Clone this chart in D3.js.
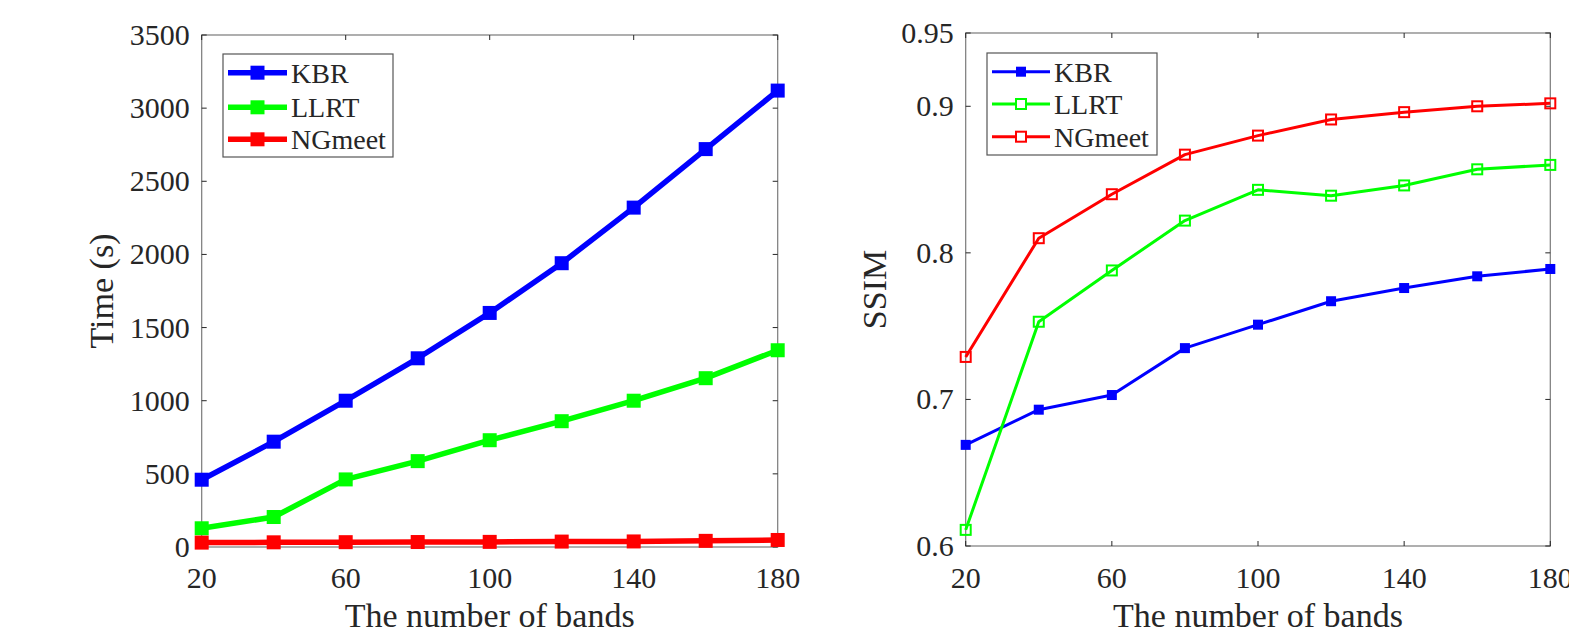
<!DOCTYPE html>
<html>
<head>
<meta charset="utf-8">
<script src="https://cdn.jsdelivr.net/npm/d3@7"></script>
<style>
  body { margin: 0; background: #fff; }
  text { font-family: "Liberation Serif", "Times New Roman", serif; fill: #262626; }
</style>
</head>
<body>
<div class="chart"></div>
<script>
// data
var bands = [20, 40, 60, 80, 100, 120, 140, 160, 180];
var seriesNames = ["KBR", "LLRT", "NGmeet"];
var seriesColors = ["#0000ff", "#00ff00", "#ff0000"];

var timeKBR = [460, 720, 1000, 1290, 1600, 1940, 2320, 2720, 3120];
var timeLLRT = [128, 205, 462, 587, 730, 860, 1000, 1154, 1345];
var timeNGmeet = [30, 32, 33, 34, 35, 37, 38, 42, 48];

var ssimKBR = [0.669, 0.693, 0.703, 0.735, 0.751, 0.767, 0.776, 0.784, 0.789];
var ssimLLRT = [0.611, 0.753, 0.788, 0.822, 0.843, 0.839, 0.846, 0.857, 0.860];
var ssimNGmeet = [0.729, 0.810, 0.840, 0.867, 0.880, 0.891, 0.896, 0.900, 0.902];

var xTicks = [20, 60, 100, 140, 180];
var timeTicks = [0, 500, 1000, 1500, 2000, 2500, 3000, 3500];
var ssimTicks = [0.6, 0.7, 0.8, 0.9, 0.95];

var W = 1569, H = 636;
var svg = d3.select(".chart").append("svg")
    .attr("width", W)
    .attr("height", H);

var axisColor = "#7a7a7a";

function panel(p) {
  var x = d3.scaleLinear().domain([20, 180]).range([p.left, p.right]);
  var y = d3.scaleLinear().domain(p.domain).range([p.bottom, p.top]);
  var g = svg.append("g");

  // box
  g.append("rect")
    .attr("x", p.left).attr("y", p.top)
    .attr("width", p.right - p.left).attr("height", p.bottom - p.top)
    .attr("fill", "none").attr("stroke", axisColor).attr("stroke-width", 1.2);

  // inward ticks on all four sides
  var tl = 5;
  xTicks.forEach(function(t) {
    g.append("line").attr("x1", x(t)).attr("x2", x(t)).attr("y1", p.bottom).attr("y2", p.bottom - tl)
      .attr("stroke", "#262626").attr("stroke-width", 1);
    g.append("line").attr("x1", x(t)).attr("x2", x(t)).attr("y1", p.top).attr("y2", p.top + tl)
      .attr("stroke", "#262626").attr("stroke-width", 1);
    g.append("text").attr("x", x(t)).attr("y", 588)
      .attr("text-anchor", "middle").style("font-size", "30px").text(t);
  });
  p.ticks.forEach(function(t) {
    g.append("line").attr("x1", p.left).attr("x2", p.left + tl).attr("y1", y(t)).attr("y2", y(t))
      .attr("stroke", "#262626").attr("stroke-width", 1);
    g.append("line").attr("x1", p.right).attr("x2", p.right - tl).attr("y1", y(t)).attr("y2", y(t))
      .attr("stroke", "#262626").attr("stroke-width", 1);
    g.append("text").attr("x", p.left - 12).attr("y", y(t) + 10)
      .attr("text-anchor", "end").style("font-size", "30px").text(p.fmt(t));
  });

  // axis labels
  g.append("text").attr("x", (p.left + p.right) / 2).attr("y", 627)
    .attr("text-anchor", "middle").style("font-size", "34px").text("The number of bands");
  g.append("text")
    .attr("transform", "translate(" + p.ylabX + "," + ((p.top + p.bottom) / 2) + ") rotate(-90)")
    .attr("text-anchor", "middle").style("font-size", "34px").text(p.ylab);

  var line = d3.line().x(function(d, i) { return x(bands[i]); }).y(function(d) { return y(d); });

  p.series.forEach(function(vals, k) {
    var c = seriesColors[k];
    g.append("path").datum(vals).attr("d", line)
      .attr("fill", "none").attr("stroke", c).attr("stroke-width", p.lw)
      .attr("stroke-linejoin", "round");
    g.selectAll(null).data(vals).enter().append("rect")
      .attr("x", function(d, i) { return x(bands[i]) - p.ms / 2; })
      .attr("y", function(d) { return y(d) - p.ms / 2; })
      .attr("width", p.ms).attr("height", p.ms)
      .attr("fill", p.filled[k] ? c : "none")
      .attr("stroke", c).attr("stroke-width", p.filled[k] ? 0 : 2);
  });

  // legend
  var lg = p.legend;
  g.append("rect").attr("x", lg.x).attr("y", lg.y).attr("width", lg.w).attr("height", lg.h)
    .attr("fill", "#fff").attr("stroke", "#555").attr("stroke-width", 1.2);
  seriesNames.forEach(function(name, k) {
    var ry = lg.rows[k], c = seriesColors[k];
    g.append("line").attr("x1", lg.x1).attr("x2", lg.x2).attr("y1", ry).attr("y2", ry)
      .attr("stroke", c).attr("stroke-width", p.lw);
    var mx = (lg.x1 + lg.x2) / 2;
    g.append("rect").attr("x", mx - p.ms / 2).attr("y", ry - p.ms / 2)
      .attr("width", p.ms).attr("height", p.ms)
      .attr("fill", p.filled[k] ? c : "#fff")
      .attr("stroke", c).attr("stroke-width", p.filled[k] ? 0 : 2);
    g.append("text").attr("x", lg.x2 + 4).attr("y", ry + 10)
      .style("font-size", "28px").text(name);
  });
}

panel({
  left: 201.7, right: 777.7, top: 35, bottom: 547,
  domain: [0, 3500], ticks: timeTicks, fmt: function(t) { return t; },
  ylab: "Time (s)", ylabX: 113,
  series: [timeKBR, timeLLRT, timeNGmeet],
  lw: 5.5, ms: 14, filled: [true, true, true],
  legend: { x: 223, y: 54, w: 170, h: 103, x1: 228, x2: 287, rows: [72.7, 107.3, 139.3] }
});

panel({
  left: 965.7, right: 1550.3, top: 33, bottom: 546,
  domain: [0.6, 0.95], ticks: ssimTicks, fmt: function(t) { return String(t); },
  ylab: "SSIM", ylabX: 886,
  series: [ssimKBR, ssimLLRT, ssimNGmeet],
  lw: 3, ms: 10, filled: [true, false, false],
  legend: { x: 987, y: 53, w: 170, h: 102, x1: 992, x2: 1050, rows: [71.7, 104, 136.7] }
});
</script>
</body>
</html>
